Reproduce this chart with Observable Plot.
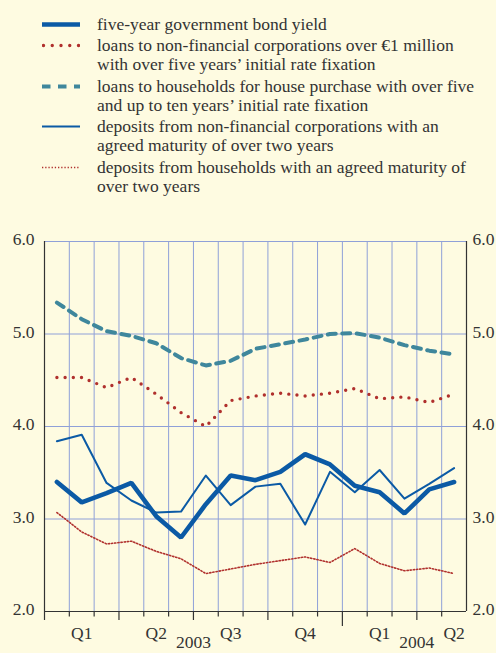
<!DOCTYPE html>
<html><head><meta charset="utf-8">
<script src="https://cdn.jsdelivr.net/npm/d3@7"></script>
<script src="https://cdn.jsdelivr.net/npm/@observablehq/plot@0.6"></script>
<style>
html,body{margin:0;padding:0;background:#fefbe1;overflow:hidden;}
body{width:496px;height:653px;font-family:"Liberation Serif","DejaVu Serif",serif;color:#333;}
#legend{height:200px;box-sizing:border-box;padding-top:14.5px;}
.entry{display:flex;align-items:flex-start;margin-bottom:2.5px;font-size:17.5px;line-height:19px;}
.entry svg{margin-left:42px;flex:none;display:block;}
.entry .label{margin-left:17px;white-space:nowrap;font-family:"Liberation Serif","DejaVu Serif",serif;}
#chart svg{display:block;}
#chart svg text{font-family:"Liberation Serif","DejaVu Serif",serif;}
</style></head><body>
<div id="legend"></div><div id="chart"></div>
<script>
// Months on the x axis (Jan 2003 – May 2004)
const months = ["2003-01","2003-02","2003-03","2003-04","2003-05","2003-06","2003-07","2003-08","2003-09","2003-10","2003-11","2003-12","2004-01","2004-02","2004-03","2004-04","2004-05"];
// Series values (percentages per annum)
const bondYield        = [3.40, 3.18, 3.28, 3.39, 3.03, 2.80, 3.16, 3.47, 3.42, 3.51, 3.70, 3.59, 3.36, 3.29, 3.06, 3.32, 3.40];
const nfcLoans         = [4.53, 4.53, 4.42, 4.53, 4.35, 4.15, 4.00, 4.28, 4.33, 4.36, 4.33, 4.36, 4.41, 4.30, 4.32, 4.26, 4.35];
const householdLoans   = [5.34, 5.16, 5.03, 4.98, 4.90, 4.74, 4.66, 4.71, 4.84, 4.89, 4.94, 5.00, 5.01, 4.96, 4.88, 4.82, 4.78];
const nfcDeposits      = [3.84, 3.91, 3.39, 3.20, 3.07, 3.08, 3.47, 3.15, 3.35, 3.38, 2.94, 3.51, 3.29, 3.53, 3.22, 3.38, 3.55];
const householdDeposits= [3.07, 2.86, 2.73, 2.76, 2.65, 2.57, 2.41, 2.46, 2.51, 2.55, 2.59, 2.53, 2.68, 2.52, 2.44, 2.47, 2.41];
// Labels
const seriesNames = [
  ["five-year government bond yield"],
  ["loans to non-financial corporations over €1 million", "with over five years’ initial rate fixation"],
  ["loans to households for house purchase with over five", "and up to ten years’ initial rate fixation"],
  ["deposits from non-financial corporations with an", "agreed maturity of over two years"],
  ["deposits from households with an agreed maturity of", "over two years"]
];
const yTicks = [2, 3, 4, 5, 6];
const quarterLabels = ["Q1", "Q2", "Q3", "Q4", "Q1", "Q2"];
const quarterYears = ["2003", "2003", "2003", "2003", "2004", "2004"];
const years = ["2003", "2004"];

const seriesValues = [bondYield, nfcLoans, householdLoans, nfcDeposits, householdDeposits];
const BLUE = "#0b5aa5", RED = "#b0302d", TEAL = "#3f879c", GRID = "#8fa0d8", AXIS = "#333";
const FONT = "'Liberation Serif','DejaVu Serif',serif";
const styles = [
  {stroke: BLUE, strokeWidth: 4.6, strokeLinejoin: "miter"},
  {stroke: RED, strokeWidth: 3.4, strokeDasharray: "0 8.2", strokeLinecap: "round"},
  {stroke: TEAL, strokeWidth: 4, strokeDasharray: "8 6.5"},
  {stroke: BLUE, strokeWidth: 2},
  {stroke: RED, strokeWidth: 1.6, strokeDasharray: "1.3 1.9"}
];
const legendDash = [
  {},
  {strokeDasharray: "0 8.75", strokeLinecap: "round"},
  {strokeDasharray: "8.5 7.5"},
  {},
  {strokeDasharray: "1.3 1.9"}
];

// Legend
const legend = d3.select("#legend");
seriesNames.forEach((lines, k) => {
  const e = legend.append("div").attr("class", "entry");
  const s = e.append("svg").attr("width", 38).attr("height", 19);
  const st = Object.assign({}, styles[k], legendDash[k]);
  const ln = s.append("line").attr("x1", st.strokeLinecap === "round" ? 1.5 : 0).attr("x2", 38).attr("y1", 9.5).attr("y2", 9.5)
    .attr("stroke", st.stroke).attr("stroke-width", st.strokeWidth);
  if (st.strokeDasharray) ln.attr("stroke-dasharray", st.strokeDasharray);
  if (st.strokeLinecap) ln.attr("stroke-linecap", st.strokeLinecap);
  e.append("div").attr("class", "label").html(lines.join("<br>"));
});

// Chart
const N = months.length;
const idx = d3.range(N);
const bounds = d3.range(N + 1);
const monthTicks = bounds.filter(b => b > 0 && b < N && b % 3 !== 0);
const quarterTicks = bounds.filter(b => b < N && b % 3 === 0 && b % 12 !== 0 || b === 0);
const yearTicks = bounds.filter(b => b > 0 && b < N && b % 12 === 0);
const qStart = i => i * 3;
const yearX = y => {
  const qs = quarterYears.map((q, i) => q === y ? i : -1).filter(i => i >= 0);
  return (qStart(d3.min(qs)) + qStart(d3.max(qs)) + 3) / 2;
};

const order = [4, 3, 2, 1, 0];
const chart = Plot.plot({
  width: 496, height: 470,
  marginTop: 41, marginBottom: 59, marginLeft: 44, marginRight: 30,
  style: {background: "transparent", fontFamily: FONT, fontSize: "17.5px", color: AXIS, overflow: "visible"},
  x: {domain: [0, N], axis: null},
  y: {domain: [2, 6], axis: null},
  marks: [
    Plot.ruleX(bounds.slice(1, -1), {stroke: GRID, strokeWidth: 1}),
    Plot.ruleY(yTicks.slice(1), {stroke: GRID, strokeWidth: 1}),
    Plot.ruleX([0, N], {stroke: AXIS, strokeWidth: 1.2}),
    Plot.ruleY([2], {stroke: AXIS, strokeWidth: 1.2}),
    Plot.ruleX(monthTicks, {y1: 2, y2: 2, insetBottom: -5.5, stroke: AXIS, strokeWidth: 1.2}),
    Plot.ruleX(quarterTicks, {y1: 2, y2: 2, insetBottom: -9, stroke: AXIS, strokeWidth: 1.2}),
    Plot.ruleX(yearTicks, {y1: 2, y2: 2, insetBottom: -15, stroke: AXIS, strokeWidth: 1.2}),
    ...order.map(k => Plot.line(idx, {x: i => i + 0.5, y: i => seriesValues[k][i], ...styles[k]})),
    Plot.text(yTicks, {x: 0, y: d => d, text: d => d.toFixed(1), textAnchor: "end", dx: -10, dy: -2, fill: AXIS}),
    Plot.text(yTicks, {x: N, y: d => d, text: d => d.toFixed(1), textAnchor: "start", dx: 6, dy: -2, fill: AXIS}),
    Plot.text(quarterLabels, {x: (d, i) => qStart(i) + 1.5, y: 2, text: d => d, lineAnchor: "bottom", dy: 27, fill: AXIS}),
    Plot.text(years, {x: d => yearX(d), y: 2, text: d => d, lineAnchor: "bottom", dy: 36.5, fill: AXIS})
  ]
});
document.getElementById("chart").appendChild(chart);
</script>
</body></html>
